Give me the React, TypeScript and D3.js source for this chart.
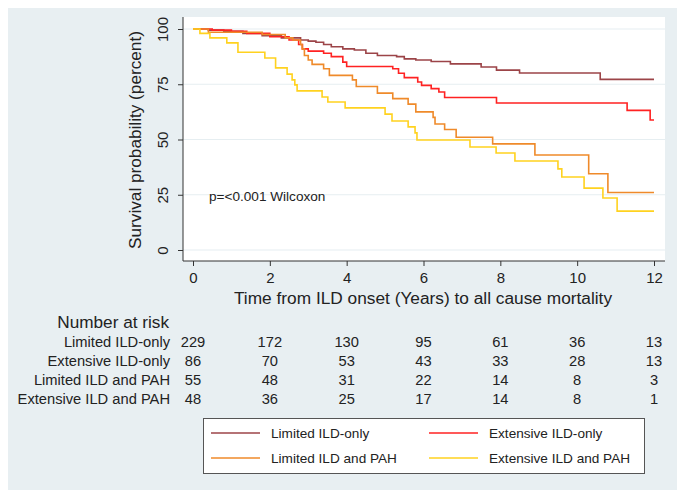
import React, { useEffect, useRef } from 'react';
import * as d3 from 'd3';

const width = 685;
const height = 498;
const margin = { top: 17, right: 20, bottom: 237, left: 183 };
const font = 'Liberation Sans, Arial, Helvetica, sans-serif';

// Kaplan-Meier step points (years, percent surviving)
const limitedIldTimes = [0, 0.4, 0.8, 1.3, 1.8, 2.3, 2.8, 3.0, 3.2, 3.4, 3.6, 3.9, 4.2, 4.5, 4.8, 5.3, 5.5, 5.8, 6.2, 6.7, 7.5, 7.9, 8.5, 10.6, 12];
const limitedIldSurv = [100, 99.5, 99, 98, 97, 96, 95, 94.5, 94, 93, 92, 91, 90.5, 89, 88, 87.5, 86.5, 86, 85.3, 84.2, 82.8, 81.4, 80.1, 77.2, 77.2];

const extensiveIldTimes = [0, 0.5, 1.0, 1.4, 2.0, 2.5, 2.75, 2.85, 3.0, 3.4, 3.6, 3.9, 4.0, 5.2, 5.35, 5.5, 5.85, 5.95, 6.2, 6.4, 6.55, 7.9, 11.3, 11.9, 12];
const extensiveIldSurv = [100, 99.5, 99, 98, 96.5, 95, 93, 91, 90, 89, 87.5, 85, 83, 82, 80, 78, 76, 74.5, 73, 71.5, 69, 66.5, 63.2, 58.8, 58.8];

const limitedPahTimes = [0, 0.4, 1.8, 2.4, 2.6, 2.8, 2.84, 2.9, 3.0, 3.1, 3.4, 3.55, 4.15, 4.25, 4.8, 5.2, 5.6, 5.8, 6.25, 6.3, 6.55, 6.85, 7.8, 8.9, 10.3, 10.8, 12];
const limitedPahSurv = [100, 98.5, 97.5, 96, 95, 93, 91, 88, 86, 84, 82, 79, 77, 74, 71, 68.5, 66, 62.5, 60, 57, 54.5, 51, 48, 43, 34.5, 26, 26];

const extensivePahTimes = [0, 0.18, 0.44, 0.88, 1.17, 1.87, 2.15, 2.45, 2.58, 2.65, 2.71, 3.36, 3.51, 3.96, 5.0, 5.18, 5.6, 5.78, 5.83, 7.21, 7.89, 8.38, 9.5, 9.6, 10.18, 10.67, 11.04, 12];
const extensivePahSurv = [100, 98, 96, 93.7, 89.5, 86.9, 82.4, 79.6, 77, 74.7, 72, 69.2, 67, 64.3, 61.5, 58.4, 55.7, 53, 49.8, 46.6, 43.9, 40.3, 36.7, 33, 28, 23.5, 17.6, 17.6];

const groupNames = ['Limited ILD-only', 'Extensive ILD-only', 'Limited ILD and PAH', 'Extensive ILD and PAH'];
const groupColors = ['#9c4448', '#ff2222', '#ef8a2a', '#ffd21f'];
const groupTimes = [limitedIldTimes, extensiveIldTimes, limitedPahTimes, extensivePahTimes];
const groupSurv = [limitedIldSurv, extensiveIldSurv, limitedPahSurv, extensivePahSurv];

const xTicks = [0, 2, 4, 6, 8, 10, 12];
const yTicks = [0, 25, 50, 75, 100];

const atRiskLimitedIld = [229, 172, 130, 95, 61, 36, 13];
const atRiskExtensiveIld = [86, 70, 53, 43, 33, 28, 13];
const atRiskLimitedPah = [55, 48, 31, 22, 14, 8, 3];
const atRiskExtensivePah = [48, 36, 25, 17, 14, 8, 1];
const atRisk = [atRiskLimitedIld, atRiskExtensiveIld, atRiskLimitedPah, atRiskExtensivePah];

function App() {
  const ref = useRef<SVGSVGElement>(null);

  useEffect(() => {
    const svg = d3.select(ref.current);
    svg.selectAll('*').remove();

    const plotW = width - margin.left - margin.right;
    const plotH = height - margin.top - margin.bottom;

    const x = d3.scaleLinear().domain([0, 12]).range([193, 654]);
    const y = d3.scaleLinear().domain([0, 100]).range([250, 29]);

    svg.append('rect').attr('width', width).attr('height', height).attr('fill', '#e8eff2');
    svg.append('rect')
      .attr('x', margin.left).attr('y', margin.top)
      .attr('width', plotW).attr('height', plotH)
      .attr('fill', 'white');

    // gridlines
    svg.append('g')
      .selectAll('line')
      .data(yTicks)
      .enter().append('line')
      .attr('x1', margin.left).attr('x2', margin.left + plotW)
      .attr('y1', (d) => y(d)).attr('y2', (d) => y(d))
      .attr('stroke', '#e6eef1').attr('stroke-width', 1.2);

    // curves
    const line = d3.line<[number, number]>()
      .x((d) => x(d[0]))
      .y((d) => y(d[1]))
      .curve(d3.curveStepAfter);

    groupNames.forEach((_, gi) => {
      const pts = groupTimes[gi].map((t, i) => [t, groupSurv[gi][i]] as [number, number]);
      svg.append('path')
        .datum(pts)
        .attr('fill', 'none')
        .attr('stroke', groupColors[gi])
        .attr('stroke-width', 1.6)
        .attr('d', line);
    });

    // axes
    const yAxis = svg.append('g')
      .attr('transform', `translate(${margin.left},0)`)
      .call(d3.axisLeft(y).tickValues(yTicks).tickSize(5).tickPadding(4));
    yAxis.select('.domain').attr('d', `M0,${margin.top}V${margin.top + plotH}`).attr('stroke', '#333');
    yAxis.selectAll('.tick line').attr('stroke', '#333');
    yAxis.selectAll('.tick text')
      .attr('font-family', font).attr('font-size', 15).attr('fill', '#222')
      .attr('x', null).attr('dy', null)
      .attr('text-anchor', 'middle')
      .attr('transform', 'translate(-15,0) rotate(-90)');

    const xAxis = svg.append('g')
      .attr('transform', `translate(0,${margin.top + plotH})`)
      .call(d3.axisBottom(x).tickValues(xTicks).tickSize(5).tickPadding(6));
    xAxis.select('.domain').attr('d', `M${margin.left},0H${margin.left + plotW}`).attr('stroke', '#333');
    xAxis.selectAll('.tick line').attr('stroke', '#333');
    xAxis.selectAll('.tick text')
      .attr('font-family', font).attr('font-size', 15).attr('fill', '#222');

    // axis titles
    svg.append('text')
      .attr('transform', `translate(141,140) rotate(-90)`)
      .attr('text-anchor', 'middle')
      .attr('font-family', font).attr('font-size', 17.2).attr('fill', '#222')
      .text('Survival probability (percent)');

    svg.append('text')
      .attr('x', 423).attr('y', 304)
      .attr('text-anchor', 'middle')
      .attr('font-family', font).attr('font-size', 17.3).attr('fill', '#222')
      .text('Time from ILD onset (Years) to all cause mortality');

    svg.append('text')
      .attr('x', 209).attr('y', 201)
      .attr('font-family', font).attr('font-size', 13.6).attr('fill', '#222')
      .text('p=<0.001 Wilcoxon');

    // number at risk
    svg.append('text')
      .attr('x', 169).attr('y', 328)
      .attr('text-anchor', 'end')
      .attr('font-family', font).attr('font-size', 17.2).attr('fill', '#222')
      .text('Number at risk');

    const rowY = d3.scaleBand<number>().domain([0, 1, 2, 3]).range([332, 408]);
    atRisk.forEach((row, gi) => {
      const yy = (rowY(gi) as number) + rowY.bandwidth() / 2 + 5;
      svg.append('text')
        .attr('x', 170).attr('y', yy)
        .attr('text-anchor', 'end')
        .attr('font-family', font).attr('font-size', 14.7).attr('fill', '#222')
        .text(groupNames[gi]);
      svg.append('g')
        .selectAll('text')
        .data(row)
        .enter().append('text')
        .attr('x', (_, i) => x(xTicks[i]))
        .attr('y', yy)
        .attr('text-anchor', 'middle')
        .attr('font-family', font).attr('font-size', 14.7).attr('fill', '#222')
        .text((d) => d);
    });

    // legend
    const legend = svg.append('g');
    legend.append('rect')
      .attr('x', 203.5).attr('y', 418.5).attr('width', 441).attr('height', 55)
      .attr('fill', 'white').attr('stroke', '#555').attr('stroke-width', 1);
    const legX = [211, 429];
    const legY = [433, 458];
    groupNames.forEach((name, gi) => {
      const lx = legX[gi % 2];
      const ly = legY[Math.floor(gi / 2)];
      legend.append('line')
        .attr('x1', lx).attr('x2', lx + 49)
        .attr('y1', ly).attr('y2', ly)
        .attr('stroke', groupColors[gi]).attr('stroke-width', 1.6);
      legend.append('text')
        .attr('x', lx + 60).attr('y', ly + 5)
        .attr('font-family', font).attr('font-size', 13.6).attr('fill', '#222')
        .text(name);
    });
  }, []);

  return <svg ref={ref} width={width} height={height} style={{ display: 'block', margin: '-8px' }} />;
}

export default App;
